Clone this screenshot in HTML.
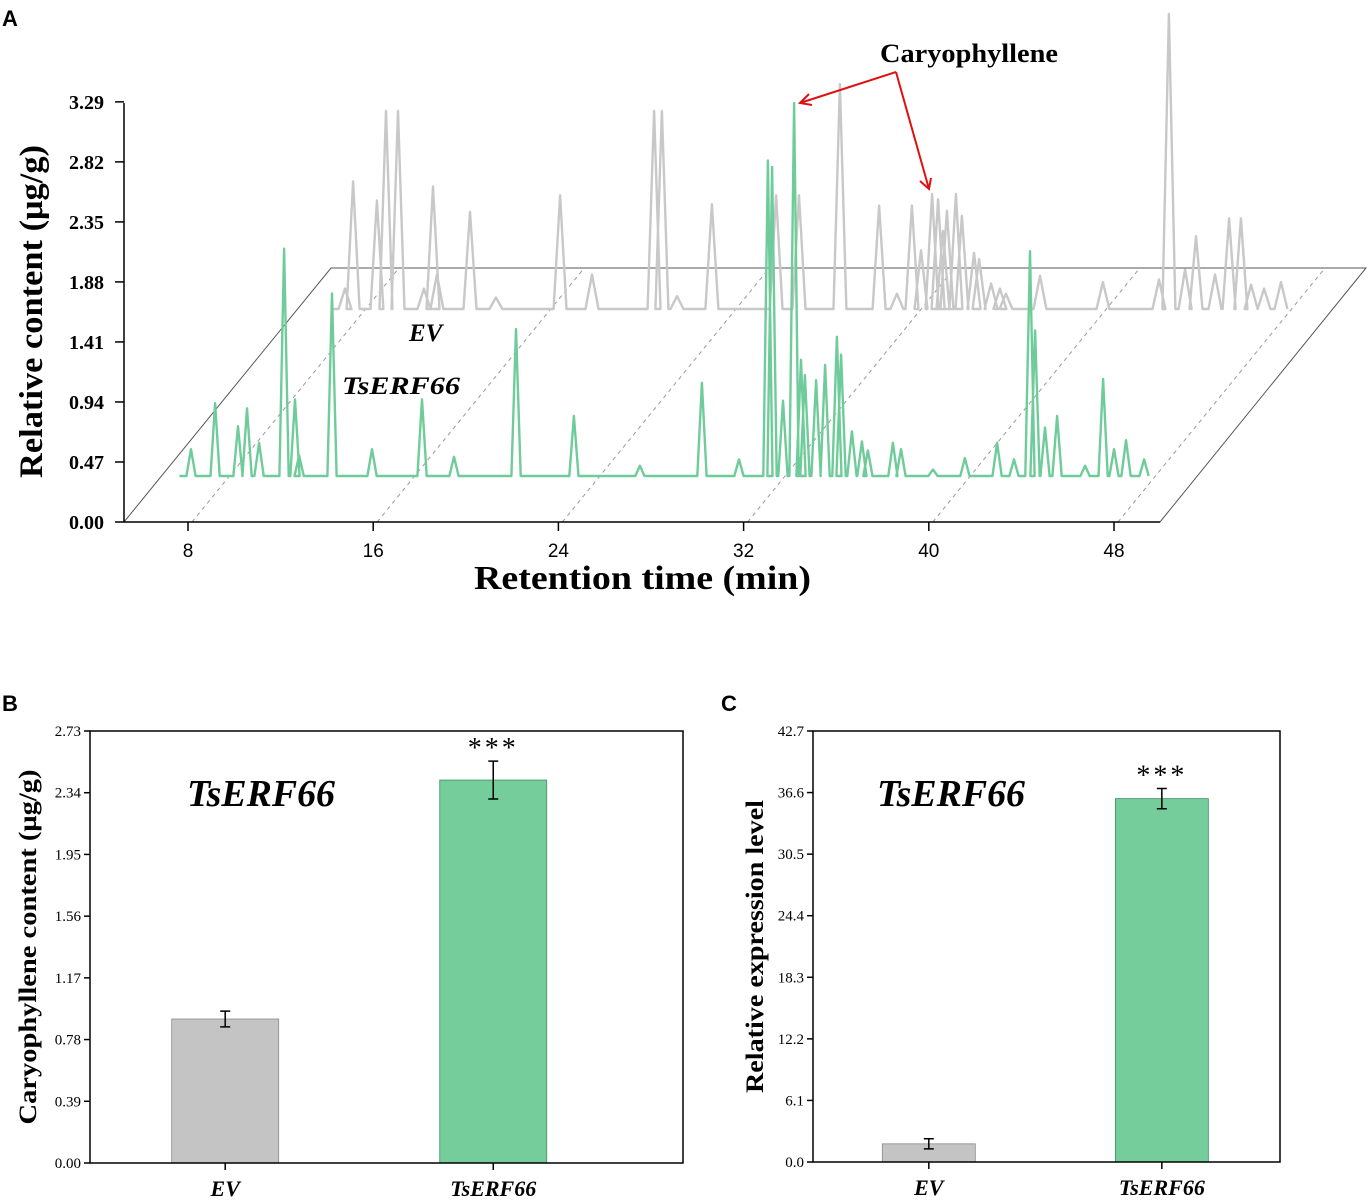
<!DOCTYPE html>
<html><head><meta charset="utf-8"><style>
body{margin:0;background:#fff;}
svg{display:block;}
</style></head><body>
<svg id="fig" width="1370" height="1203" viewBox="0 0 1370 1203" xmlns="http://www.w3.org/2000/svg">
<g id="pa"></g>
<g id="pb"></g>
<g id="pc"></g>
</svg>
<script>
// ---------- Panel A data ----------
const aYTicks = ["0.00","0.47","0.94","1.41","1.88","2.35","2.82","3.29"];
const aXTicks = [8,16,24,32,40,48];
const tsTimes = [8.13,9.17,10.16,10.55,11.07,12.15,12.62,12.8,14.22,15.95,18.11,19.49,22.17,24.67,27.52,30.2,31.8,33.05,33.23,33.7,34.18,34.48,34.65,35.13,35.52,36.03,36.21,36.68,37.11,37.37,38.45,38.8,40.18,41.56,42.95,43.68,44.37,44.59,45.02,45.54,46.75,47.53,48.0,48.52,49.3];
const tsValues = [0.21,0.57,0.39,0.53,0.26,1.78,0.6,0.16,1.43,0.21,0.6,0.15,1.15,0.47,0.08,0.73,0.13,2.47,2.42,0.59,2.92,0.91,0.79,0.75,0.87,1.09,0.95,0.35,0.27,0.2,0.26,0.21,0.05,0.14,0.26,0.13,1.76,1.14,0.38,0.47,0.08,0.76,0.21,0.28,0.13];
const evTimes = [9.08,9.43,10.46,10.85,11.37,12.49,12.88,13.05,14.48,15.6,18.37,19.75,22.43,22.77,23.42,24.93,27.7,28.69,30.46,32.15,32.92,33.57,33.96,34.44,34.7,34.91,35.08,35.47,35.73,36.25,36.47,36.99,37.37,37.63,39.1,41.82,44.24,44.67,45.37,45.84,46.66,47.27,47.78,48.22,48.78,49.51];
const evValues = [0.16,1.0,0.85,1.55,1.55,0.16,0.96,0.27,0.76,0.09,0.89,0.27,1.55,1.55,0.1,0.82,0.89,0.89,1.76,0.81,0.12,0.81,0.46,0.9,0.86,0.61,0.77,0.9,0.73,0.44,0.39,0.2,0.16,0.12,0.26,0.21,0.23,2.31,0.31,0.57,0.27,0.71,0.71,0.19,0.16,0.21];
// ---------- Panel B data ----------
const bCats = ["EV","TsERF66"];
const bValues = [0.91,2.42];
const bErrors = [0.05,0.12];
const bTicks = ["0.00","0.39","0.78","1.17","1.56","1.95","2.34","2.73"];
// ---------- Panel C data ----------
const cCats = ["EV","TsERF66"];
const cValues = [1.8,36.0];
const cErrors = [0.5,1.0];
const cTicks = ["0.0","6.1","12.2","18.3","24.4","30.5","36.6","42.7"];

const NS="http://www.w3.org/2000/svg";
const SERIF='font-family:"Liberation Serif",serif;';
const SANS='font-family:"Liberation Sans",sans-serif;';
function mk(parent,tag,attrs,txt){const e=document.createElementNS(NS,tag);for(const k in attrs)e.setAttribute(k,attrs[k]);if(txt!==undefined)e.textContent=txt;parent.appendChild(e);return e;}

// ---------- Panel A ----------
(function(){
const g=document.getElementById('pa');
const xA=t=>188+(t-8)*23.15;
const yA=v=>522-v*127.7;
const DX=207, DY=-254;
let e;
e=mk(g,'text',{x:2,y:26,style:SANS+'font-weight:bold;font-size:22px'},'A');

e=mk(g,'path',{d:`M124 522 L${124+DX} ${522+DY} L1366 268 L1160 522 Z`,fill:'none',stroke:'#555','stroke-width':1});

aXTicks.forEach(t=>{const x=xA(t)+4;
 e=mk(g,'line',{x1:x,y1:522,x2:x+DX,y2:522+DY,stroke:'#999','stroke-width':1,'stroke-dasharray':'4,4'});
 
});
e=mk(g,'line',{x1:124,y1:103,x2:124,y2:522,stroke:'#000','stroke-width':1.5});

e=mk(g,'line',{x1:124,y1:522,x2:1160,y2:522,stroke:'#000','stroke-width':1.5});

aYTicks.forEach((s,i)=>{const y=yA(i*0.47);
 e=mk(g,'line',{x1:115,y1:y,x2:124,y2:y,stroke:'#000','stroke-width':1.5});
 
 e=mk(g,'text',{x:104,y:y+7,'text-anchor':'end',style:SERIF+'font-weight:bold;font-size:20px'},s);
 
});
aXTicks.forEach(t=>{const x=xA(t);
 e=mk(g,'line',{x1:x,y1:522,x2:x,y2:531,stroke:'#000','stroke-width':1.5});
 
 e=mk(g,'text',{x:x,y:557,'text-anchor':'middle',style:SANS+'font-size:19px'},String(t));
 
});
e=mk(g,'text',{x:474,y:589,textLength:337,lengthAdjust:'spacingAndGlyphs',style:SERIF+'font-weight:bold;font-size:34px'},'Retention time (min)');

e=mk(g,'text',{x:0,y:0,textLength:333,lengthAdjust:'spacingAndGlyphs',transform:'translate(42,478) rotate(-90)',style:SERIF+'font-weight:bold;font-size:33px'},'Relative content (μg/g)');

function trace(times,vals,dx,dy,w){
 let pts=[[times[0]-0.5,0]];
 times.forEach((t,i)=>{pts.push([t-w,0],[t,vals[i]],[t+w,0]);});
 return pts.map((p,i)=>(i?'L':'M')+(xA(p[0])+dx).toFixed(1)+' '+(yA(p[1])+dy).toFixed(1)).join(' ');
}
e=mk(g,'path',{d:trace(evTimes,evValues,132,-213,0.28),fill:'none',stroke:'#c8c8c8','stroke-width':2.4,'stroke-linejoin':'round'});

e=mk(g,'path',{d:trace(tsTimes,tsValues,0,-46,0.2),fill:'none',stroke:'#6fcc9a','stroke-width':2.4,'stroke-linejoin':'round'});

e=mk(g,'text',{x:409,y:341,style:SERIF+'font-weight:bold;font-style:italic;font-size:25px'},'EV');

e=mk(g,'text',{x:342,y:394,textLength:118,lengthAdjust:'spacingAndGlyphs',style:SERIF+'font-weight:bold;font-style:italic;font-size:25px'},'TsERF66');

e=mk(g,'text',{x:880,y:62,textLength:178,lengthAdjust:'spacingAndGlyphs',style:SERIF+'font-weight:bold;font-size:26px'},'Caryophyllene');

e=mk(g,'path',{d:'M896 72 L800 103 M896 72 L929 189 M809 94 L800 103 L812 105 M920 181 L929 189 L931 178',fill:'none',stroke:'#e01010','stroke-width':2});

})();

// ---------- Bar panels ----------
function barPanel(id,letter,lx,box,ticks,maxV,cats,vals,errs,title,titleX,titleLen,labelX,centers,bw){
 const g=document.getElementById(id);let e;
 const [x0,y0,x1,y1]=box;
 const yS=v=>y1-v/maxV*(y1-y0);
 const xc=i=>x0+(x1-x0)*centers[i];
 e=mk(g,'text',{x:lx,y:y0-20,style:SANS+'font-weight:bold;font-size:22px'},letter);
 
 ticks.forEach((s,i)=>{const y=yS(maxV*i/(ticks.length-1));
  e=mk(g,'line',{x1:x0-6,y1:y,x2:x0,y2:y,stroke:'#000','stroke-width':1.5});
  
  e=mk(g,'text',{x:x0-9,y:y+5,'text-anchor':'end',style:SERIF+'font-size:15px'},s);
  
 });
 cats.forEach((c,i)=>{
  const x=xc(i);
  e=mk(g,'rect',{x:x-bw/2,y:yS(vals[i]),width:bw,height:y1-yS(vals[i]),fill:i?'#74cd9b':'#c4c4c4',stroke:i?'#3f8f62':'#8a8a8a','stroke-width':0.8});
  
  const ya=yS(vals[i]+errs[i]),yb=yS(vals[i]-errs[i]);
  e=mk(g,'path',{d:`M${x} ${ya} L${x} ${yb} M${x-5} ${ya} L${x+5} ${ya} M${x-5} ${yb} L${x+5} ${yb}`,stroke:'#000','stroke-width':1.5,fill:'none'});
  
  e=mk(g,'line',{x1:x,y1:y1,x2:x,y2:y1+7,stroke:'#000','stroke-width':1.5});
  
  e=mk(g,'text',{x:x,y:y1+33,'text-anchor':'middle',style:SERIF+'font-weight:bold;font-style:italic;font-size:22px'},c);
  
 });
 e=mk(g,'text',{x:xc(1),y:yS(vals[1]+errs[1])-4,'text-anchor':'middle',style:SERIF+'font-size:28px;letter-spacing:3px'},'***');
 
 e=mk(g,'rect',{x:x0,y:y0,width:x1-x0,height:y1-y0,fill:'none',stroke:'#000','stroke-width':1.5});
 
 e=mk(g,'text',{x:titleX,y:y0+75,textLength:148,lengthAdjust:'spacingAndGlyphs',style:SERIF+'font-weight:bold;font-style:italic;font-size:38px'},'TsERF66');
 
 e=mk(g,'text',{x:0,y:0,'text-anchor':'middle',textLength:titleLen,lengthAdjust:'spacingAndGlyphs',transform:`translate(${labelX},${(y0+y1)/2}) rotate(-90)`,style:SERIF+'font-weight:bold;font-size:25px'},title);
 
}
barPanel('pb','B',2,[90,731,683,1163],bTicks,2.73,bCats,bValues,bErrors,'Caryophyllene content (μg/g)',187,355,36,[0.228,0.68],107);
barPanel('pc','C',721,[813,731,1280,1162],cTicks,42.7,cCats,cValues,cErrors,'Relative expression level',877,293,763,[0.248,0.747],93);
</script>
</body></html>
